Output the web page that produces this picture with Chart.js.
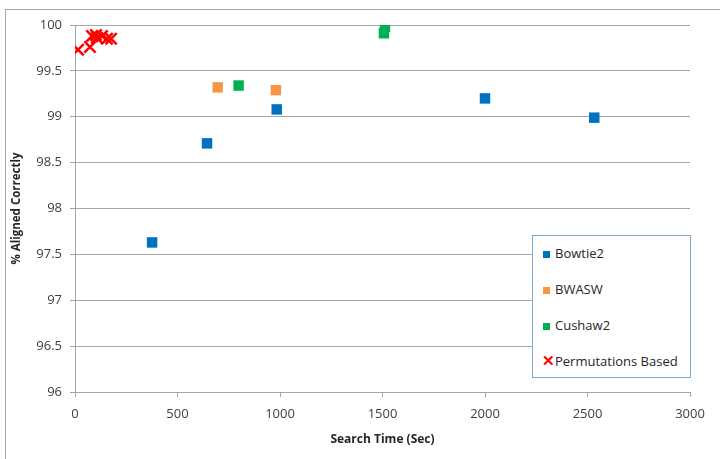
<!DOCTYPE html>
<html>
<head>
<meta charset="utf-8">
<script src="https://cdn.jsdelivr.net/npm/chart.js@4/dist/chart.umd.min.js"></script>
<style>
  html, body { margin: 0; padding: 0; background: #fff; }
  #wrap { position: relative; width: 720px; height: 459px; overflow: hidden; }
  #frame { position: absolute; left: 5px; top: 9px; right: -2px; bottom: -2px; border-left: 1px solid #a6a6a6; border-top: 1px solid #a6a6a6; }
  canvas { position: absolute; left: 0; top: 0; }
  #legend { position: absolute; left: 532px; top: 235px; width: 157px; height: 141px; border: 1px solid #7ea6d8; background: #fff; font-family: "Open Sans", sans-serif; font-size: 13px; color: #262626; }
  .item { position: absolute; left: 10px; height: 16px; line-height: 16px; white-space: nowrap; }
  .mk { display: inline-block; width: 7px; height: 7px; margin-right: 5px; vertical-align: 0px; }
  .mx { display: inline-block; width: 11px; margin-right: 2px; color: #ff0000; font-weight: bold; font-size: 15px; }
</style>
</head>
<body>
<div id="wrap">
  <div id="frame"></div>
  <canvas id="c" width="720" height="459"></canvas>
  <div id="legend"></div>
</div>
<script>
const seriesNames = ["Bowtie2", "BWASW", "Cushaw2", "Permutations Based"];
const bowtie2X = [376, 644, 984, 2000, 2533];
const bowtie2Y = [97.63, 98.71, 99.08, 99.20, 98.99];
const bwaswX = [696, 980];
const bwaswY = [99.32, 99.29];
const cushaw2X = [798, 1507, 1512];
const cushaw2Y = [99.34, 99.91, 99.98];
const permX = [15, 73, 83, 102, 107, 132, 156, 176];
const permY = [99.73, 99.76, 99.88, 99.89, 99.86, 99.88, 99.85, 99.85];
const xTicks = [0, 500, 1000, 1500, 2000, 2500, 3000];
const xTickLabels = ["0", "500", "1000", "1500", "2000", "2500", "3000"];
const yTicks = [96, 96.5, 97, 97.5, 98, 98.5, 99, 99.5, 100];
const yTickLabels = ["96", "96.5", "97", "97.5", "98", "98.5", "99", "99.5", "100"];

const colors = ["#0070c0", "#f79646", "#00b050", "#ff0000"];
const pts = (xs, ys) => xs.map((x, i) => ({ x: x, y: ys[i] }));

const FONT = "'Open Sans', sans-serif";
const datasets = [
  { label: seriesNames[0], data: pts(bowtie2X, bowtie2Y), pointStyle: 'rect', pointRadius: 7.4, backgroundColor: colors[0], borderColor: colors[0], borderWidth: 0 },
  { label: seriesNames[1], data: pts(bwaswX, bwaswY), pointStyle: 'rect', pointRadius: 7.4, backgroundColor: colors[1], borderColor: colors[1], borderWidth: 0 },
  { label: seriesNames[2], data: pts(cushaw2X, cushaw2Y), pointStyle: 'rect', pointRadius: 7.4, backgroundColor: colors[2], borderColor: colors[2], borderWidth: 0 },
  { label: seriesNames[3], data: pts(permX, permY), pointStyle: 'crossRot', pointRadius: 8, backgroundColor: colors[3], borderColor: colors[3], borderWidth: 2.5 }
];

const chart = new Chart(document.getElementById('c'), {
  type: 'scatter',
  data: { datasets: datasets },
  options: {
    responsive: false,
    animation: false,
    devicePixelRatio: 1,
    layout: { padding: { left: 5, right: 30, top: 25, bottom: 0 } },
    plugins: { legend: { display: false }, tooltip: { enabled: false } },
    scales: {
      x: {
        type: 'linear', min: 0, max: 3000,
        afterBuildTicks: (s) => { s.ticks = xTicks.map(v => ({ value: v })); },
        afterFit: (s) => { s.height = 67; },
        grid: { drawOnChartArea: false, drawTicks: true, tickLength: 5, color: '#a6a6a6' },
        border: { color: '#a6a6a6', width: 1 },
        ticks: { padding: 9, color: '#404040', font: { family: FONT, size: 13 }, maxRotation: 0,
          callback: (v, i) => xTickLabels[i] },
        title: { display: true, text: 'Search Time (Sec)', color: '#262626', font: { family: FONT, size: 12, weight: 'bold' }, padding: { top: 0, bottom: 12 } }
      },
      y: {
        type: 'linear', min: 96, max: 100,
        afterBuildTicks: (s) => { s.ticks = yTicks.map(v => ({ value: v })); },
        afterFit: (s) => { s.width = 70; },
        grid: { color: '#a6a6a6', lineWidth: 1, drawTicks: true, tickLength: 5 },
        border: { color: '#a6a6a6', width: 1 },
        ticks: { padding: 8, color: '#404040', font: { family: FONT, size: 13 },
          callback: (v, i) => yTickLabels[i] },
        title: { display: true, text: '% Aligned Correctly', color: '#262626', font: { family: FONT, size: 11.5, weight: 'bold' }, padding: { top: 5, bottom: 0 } }
      }
    }
  }
});

// HTML legend built from the chart's datasets
const leg = document.getElementById('legend');
const rowTops = [9, 45, 81, 116];
chart.data.datasets.forEach((ds, i) => {
  const d = document.createElement('div');
  d.className = 'item';
  d.style.top = rowTops[i] + 'px';
  if (ds.pointStyle === 'crossRot') {
    d.innerHTML = '<span class="mx">\u2715</span>';
    d.style.left = '9px';
  } else {
    d.innerHTML = '<span class="mk" style="background:' + ds.backgroundColor + '"></span>';
  }
  d.appendChild(document.createTextNode(ds.label));
  leg.appendChild(d);
});
</script>
</body>
</html>
